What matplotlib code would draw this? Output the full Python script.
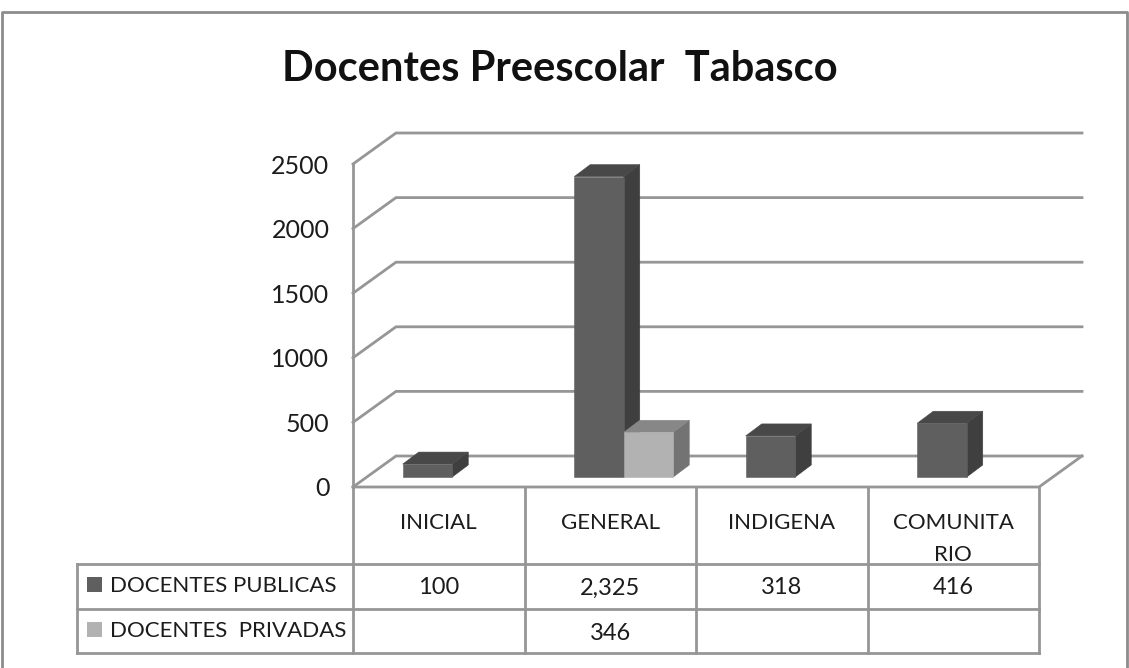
import matplotlib
matplotlib.use("Agg")
import matplotlib.pyplot as plt
from matplotlib.patches import Rectangle

plt.rcParams['font.family'] = ['Lato', 'DejaVu Sans']

TITLE = "Docentes Preescolar  Tabasco"
categories = ["INICIAL", "GENERAL", "INDIGENA", "COMUNITA\nRIO"]
publicas = [100, 2325, 318, 416]
privadas = [None, 346, None, None]
series_names = ["DOCENTES PUBLICAS", "DOCENTES  PRIVADAS"]
yticks = [0, 500, 1000, 1500, 2000, 2500]

W, H = 1129, 668
GRID = "#969696"
TXT = "#1c1c1c"
fig = plt.figure(figsize=(W / 100, H / 100), dpi=100, facecolor="white")

# page layer in pixel units: frame, title, data table
page = fig.add_axes([0, 0, 1, 1], zorder=0)
page.set_xlim(0, W)
page.set_ylim(H, 0)
page.axis("off")

# plot layer: the front plane of the 3D box
L, R, B, T = 353, 1039, 487, 164
ax = fig.add_axes([L / W, 1 - B / H, (R - L) / W, (B - T) / H], zorder=1)
ax.set_xlim(0, 4)
ax.set_ylim(0, 2500)
ax.patch.set_alpha(0)
for s in ax.spines.values():
    s.set_visible(False)
ax.set_xticks([])
ax.set_yticks(yticks)
ax.tick_params(axis="y", length=0, pad=17, labelsize=18, labelcolor=TXT)

px_x = 4 / (R - L)
px_y = 2500 / (B - T)
BOX_DX, BOX_DY = 43 * px_x, 31 * px_y
BAR_DX, BAR_DY = 16 * px_x, 12 * px_y
FLOOR_DX, FLOOR_DY = 13.5 * px_x, 10 * px_y
BAR_W = 49.5 * px_x

# walls
lw = 2.0
for v in yticks:
    ax.plot([0, BOX_DX, 4 + BOX_DX], [v, v + BOX_DY, v + BOX_DY],
            color=GRID, lw=lw, clip_on=False, zorder=1, solid_joinstyle="miter")
ax.plot([0, 0], [0, 2500], color=GRID, lw=lw, clip_on=False, zorder=1)
ax.plot([0, 4, 4 + BOX_DX], [0, 0, BOX_DY], color=GRID, lw=lw, clip_on=False, zorder=1)


def draw_bars(values, offset, front, top, side, z):
    for i, v in enumerate(values):
        if v is None:
            continue
        x0 = i + 0.5 - BAR_W + offset * BAR_W + FLOOR_DX
        x1 = x0 + BAR_W
        y0 = FLOOR_DY
        y1 = y0 + v
        ax.fill([x1, x1 + BAR_DX, x1 + BAR_DX, x1],
                [y0, y0 + BAR_DY, y1 + BAR_DY, y1],
                color=side, lw=0.4, clip_on=False, zorder=z)
        ax.fill([x0, x0 + BAR_DX, x1 + BAR_DX, x1],
                [y1, y1 + BAR_DY, y1 + BAR_DY, y1],
                color=top, lw=0.4, clip_on=False, zorder=z)
        ax.bar(x0, v, BAR_W, bottom=y0, align="edge", color=front,
               edgecolor=front, lw=0.4, clip_on=False, zorder=z)


PUB = ("#5f5f5f", "#484848", "#3f3f3f")
PRI = ("#b2b2b2", "#878787", "#737373")
draw_bars(publicas, 0, *PUB, 2)
draw_bars(privadas, 1, *PRI, 3)

# frame
page.plot([2, 2, 1127, 1127], [H, 12, 12, H], color="#8c8c8c", lw=2.0)

# title
page.text(560, 69, TITLE, ha="center", va="center", fontsize=30,
          fontweight="bold", color="#111111")

# data table
tab_left, y_head, y_r1, y_r2 = 77, 564, 609, 653
cell = (R - L) / len(categories)
tl = dict(color=GRID, lw=2.0, solid_capstyle="projecting")
for j in range(len(categories) + 1):
    page.plot([L + j * cell] * 2, [B, y_r2], **tl)
for y in (y_head, y_r1, y_r2):
    page.plot([tab_left, R], [y, y], **tl)
page.plot([tab_left, tab_left], [y_head, y_r2], **tl)

for j, c in enumerate(categories):
    cx = L + (j + 0.5) * cell
    lines = c.split("\n")
    page.text(cx, 523, lines[0], ha="center", va="center", fontsize=16, color=TXT)
    if len(lines) > 1:
        page.text(cx, 555, lines[1], ha="center", va="center", fontsize=16, color=TXT)

for row, (name, vals, col, yc) in enumerate(zip(series_names, [publicas, privadas],
                                                [PUB[0], PRI[0]], [584, 629])):
    page.add_patch(Rectangle((87, yc - 7), 15, 15, color=col, lw=0))
    page.text(110, yc + 2, name, ha="left", va="center", fontsize=16, color=TXT)
    for j, v in enumerate(vals):
        if v is not None:
            page.text(L + (j + 0.5) * cell, yc + 4, f"{v:,}", ha="center", va="center",
                      fontsize=17, color=TXT)

fig.savefig("out.png", dpi=100, facecolor="white")
